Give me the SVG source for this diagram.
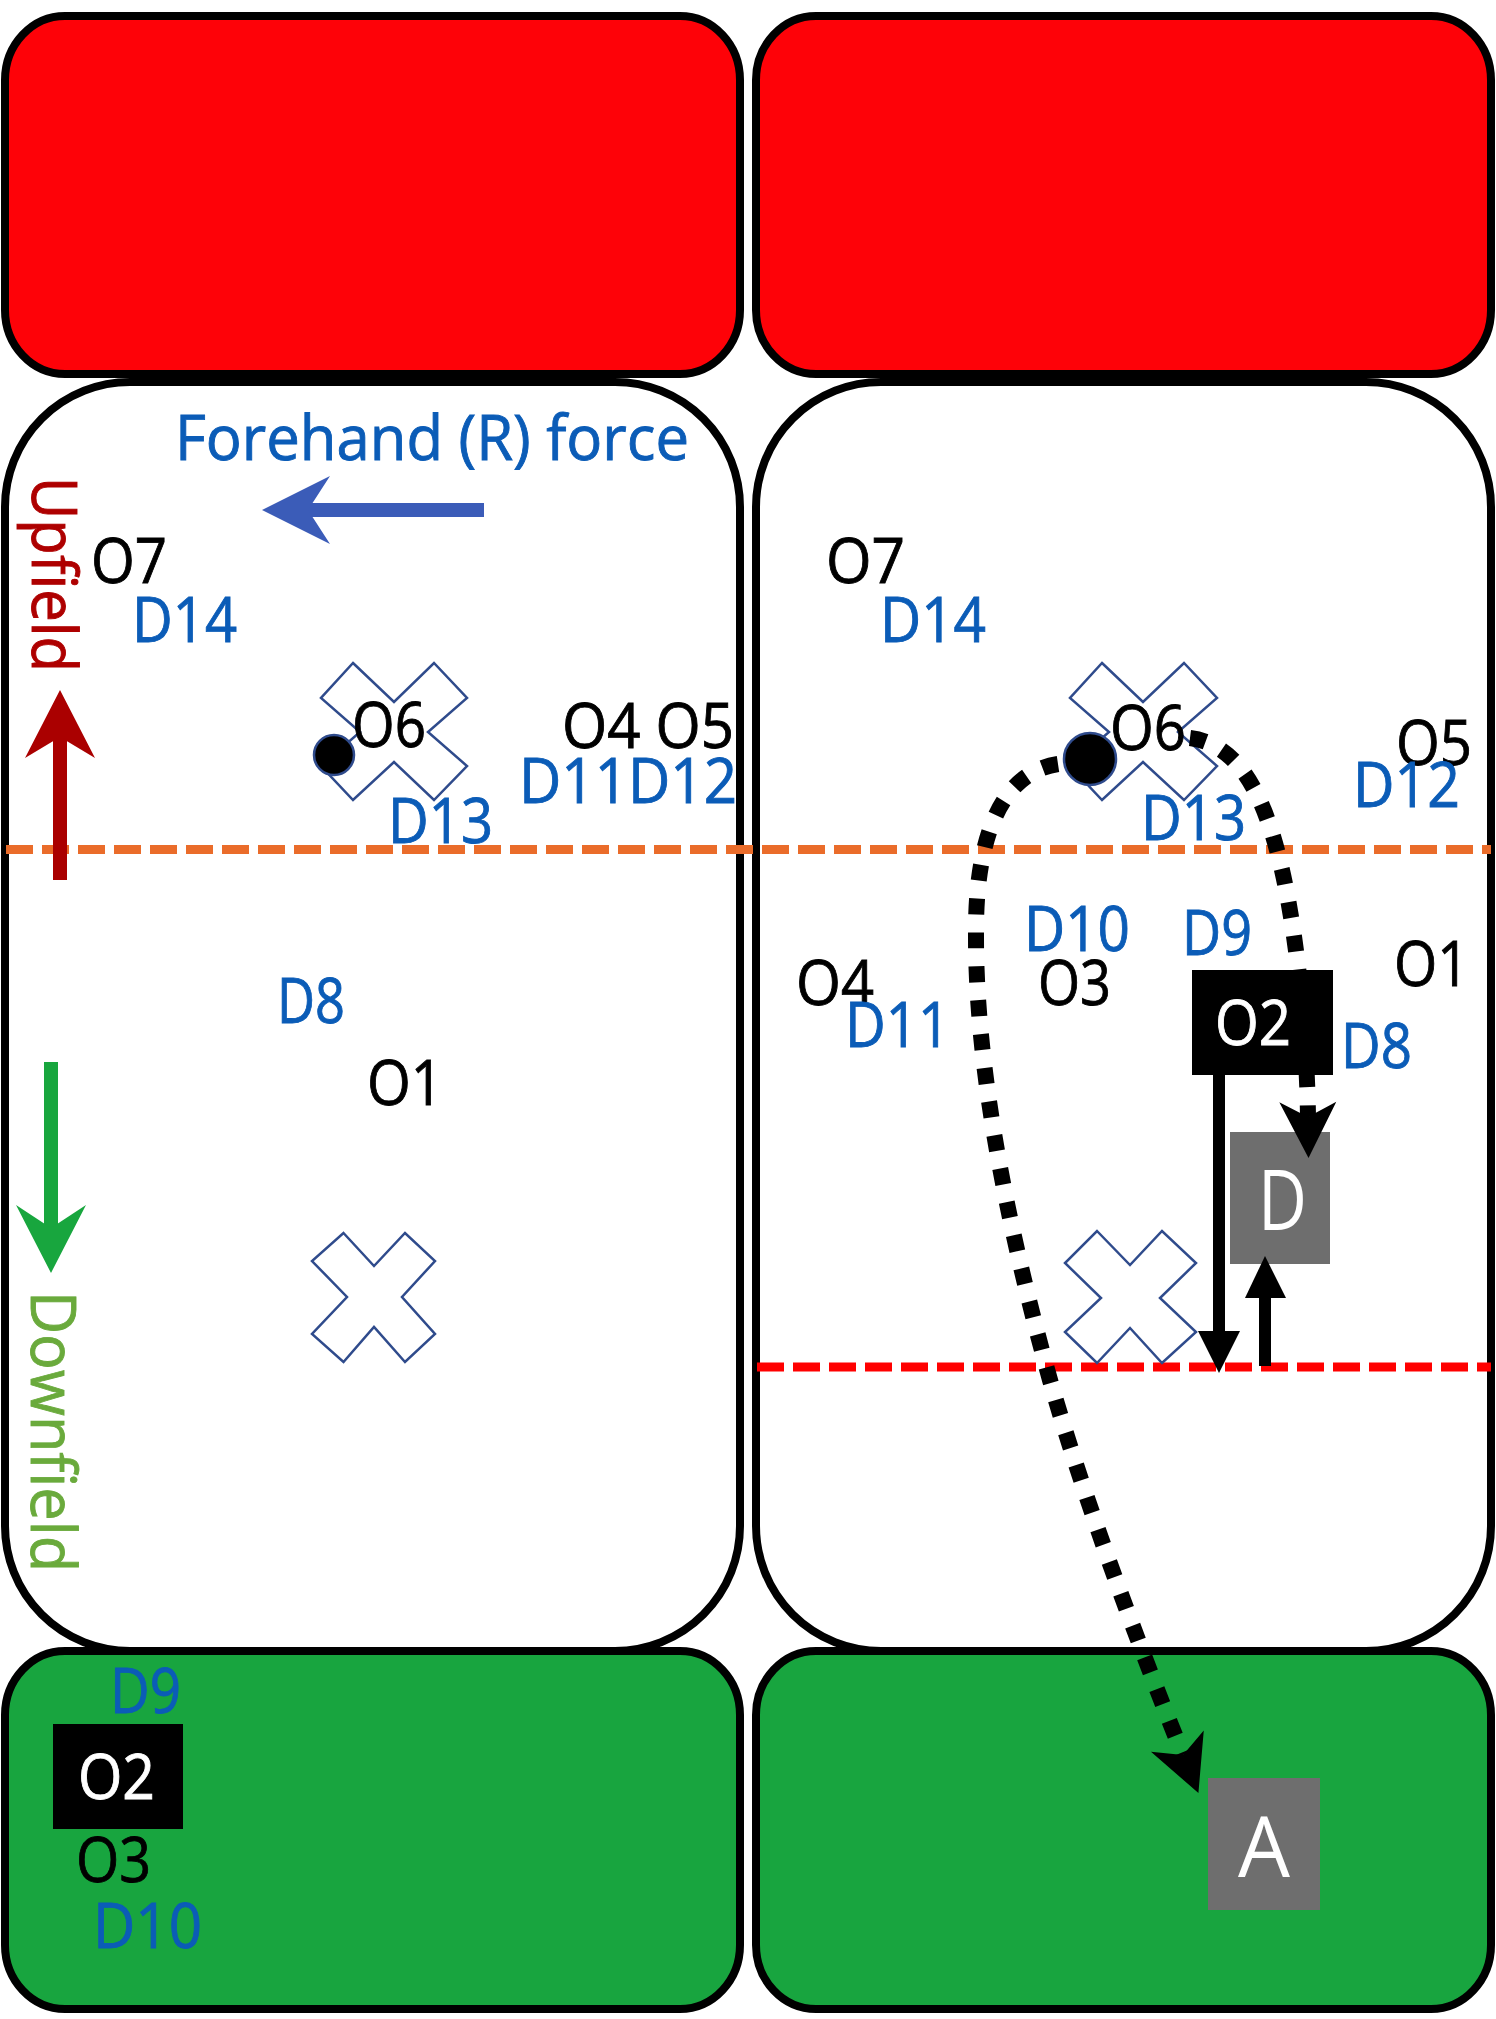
<svg xmlns="http://www.w3.org/2000/svg" width="1496" height="2019" viewBox="0 0 1496 2019">
<defs>
<style>
.t{font-family:"Open Sans","Noto Sans","Liberation Sans",sans-serif;font-size:62px;stroke-width:0.9px}
.big{font-size:85px;stroke-width:0}
.k{fill:#000;stroke:#000}
.b{fill:#0B5CB7;stroke:#0B5CB7}
.w{fill:#fff;stroke:#fff}
.zone{stroke:#000;stroke-width:8}
.redz{fill:#FE0208}
.grnz{fill:#18A53F}
.field{fill:#fff}
.cone{fill:#fff;stroke:#2F4B8C;stroke-width:2.5;stroke-linejoin:miter}
.ball{fill:#000;stroke:#2F4B8C;stroke-width:2.5}
.dot{fill:none;stroke:#000;stroke-width:16;stroke-dasharray:16 18;marker-end:url(#stealth)}
.dash{fill:none;stroke-width:9;stroke-dasharray:27 9}
</style>
<marker id="stealth" viewBox="-15 -29 60 58" refX="0" refY="0" markerWidth="60" markerHeight="58" markerUnits="userSpaceOnUse" orient="auto" overflow="visible">
<path d="M-15,-28.5 L41,0 L-15,28.5 L0,0 Z" fill="#000"/>
</marker>
</defs>

<g id="zones">
<rect id="endzone-top-left" class="zone redz" x="5" y="16" width="735" height="358" rx="60" ry="64"/>
<rect id="endzone-top-right" class="zone redz" x="756" y="16" width="735" height="358" rx="60" ry="64"/>
<rect id="field-left" class="zone field" x="5" y="382" width="735" height="1269" rx="125" ry="125"/>
<rect id="field-right" class="zone field" x="756" y="382" width="735" height="1269" rx="125" ry="125"/>
<rect id="endzone-bottom-left" class="zone grnz" x="5" y="1651" width="735" height="358" rx="60" ry="64"/>
<rect id="endzone-bottom-right" class="zone grnz" x="756" y="1651" width="735" height="358" rx="60" ry="64"/>
</g>

<g id="lines">
<line id="orange-line" class="dash" stroke="#EA6C2A" x1="6" y1="849.5" x2="1491" y2="849.5"/>
<line id="red-line" class="dash" stroke="#FF0000" x1="757" y1="1367" x2="1491" y2="1367"/>
</g>

<g id="cones">
<polygon id="cone-left-1" class="cone" points="353,663 394,702 434,663 467,698 428,732 467,766 434,800 394,762 353,800 321,766 360,732 321,698"/>
<polygon id="cone-left-2" class="cone" points="343.5,1233 374,1266 405,1233 435,1261 402,1297 435,1334 405,1362 374,1327 343.5,1362 312,1334 347,1297 312,1261"/>
<polygon id="cone-right-1" class="cone" points="1102,663 1143,702 1184,663 1217,698 1178,732 1217,766 1184,800 1143,762 1102,800 1070,766 1109,732 1070,698"/>
<polygon id="cone-right-2" class="cone" points="1097,1231 1130,1265 1162,1231 1196,1263 1160,1298 1196,1332 1162,1363 1130,1328 1097,1363 1065,1332 1101,1298 1065,1263"/>
</g>

<g id="indicators">
<g id="force-arrow">
<rect x="306" y="503" width="178" height="14" fill="#3B5CB8"/>
<polygon points="262,510 330,476 308,510 330,544" fill="#3B5CB8"/>
</g>
<g id="upfield-arrow">
<rect x="53" y="736" width="14" height="144" fill="#AA0000"/>
<polygon points="60,690 95,758 60,737 25,758" fill="#AA0000"/>
</g>
<g id="downfield-arrow">
<rect x="44" y="1062" width="14" height="168" fill="#18A63E"/>
<polygon points="51,1273 86,1205 51,1228 16,1205" fill="#18A63E"/>
</g>
<text id="forehand-label" class="t b" x="175" y="460" textLength="514" lengthAdjust="spacingAndGlyphs">Forehand (R) force</text>
<text id="upfield-label" class="t" fill="#AE0000" stroke="#AE0000" transform="translate(32,477) rotate(90)" x="0" y="0" textLength="195" lengthAdjust="spacingAndGlyphs">Upfield</text>
<text id="downfield-label" class="t" fill="#6AAA3C" stroke="#6AAA3C" transform="translate(31,1291) rotate(90)" x="0" y="0" textLength="281" lengthAdjust="spacingAndGlyphs">Downfield</text>
</g>

<g id="marker-D">
<rect x="1230" y="1132" width="100" height="132" fill="#6E6E6E"/>
<text class="t w big" x="1258" y="1230" textLength="49" lengthAdjust="spacingAndGlyphs">D</text>
</g>
<g id="marker-A">
<rect x="1208" y="1778" width="112" height="132" fill="#6E6E6E"/>
<text class="t w big" x="1238" y="1877" textLength="52" lengthAdjust="spacingAndGlyphs">A</text>
</g>

<g id="connectors">
<path id="throw-deep" class="dot" d="M1058,764 C1005,772 976,830 976,930 C975,1050 1000,1200 1050,1380 C1090,1520 1155,1686 1183,1755"/>
<path id="throw-under" class="dot" d="M1190,738 C1245,745 1268,810 1282,870 C1298,940 1307,1040 1308,1117"/>
<g id="cut-down">
<rect x="1213" y="1075" width="12" height="257" fill="#000"/>
<polygon points="1198,1331 1240,1331 1219,1373" fill="#000"/>
</g>
<g id="cut-up">
<rect x="1259" y="1297" width="12" height="69" fill="#000"/>
<polygon points="1245,1298 1286,1298 1265,1256" fill="#000"/>
</g>
</g>

<g id="left-players">
<g id="L-O7"><text class="t k" x="91" y="583" textLength="76" lengthAdjust="spacingAndGlyphs">O7</text></g>
<g id="L-D14"><text class="t b" x="132" y="642" textLength="105" lengthAdjust="spacingAndGlyphs">D14</text></g>
<g id="L-ball"><circle class="ball" cx="334" cy="755" r="20"/></g>
<g id="L-O6"><text class="t k" x="352" y="747" textLength="74" lengthAdjust="spacingAndGlyphs">O6</text></g>
<g id="L-O4O5"><text class="t k" x="562" y="748" textLength="172" lengthAdjust="spacingAndGlyphs">O4 O5</text></g>
<g id="L-D11D12"><text class="t b" x="519" y="803" textLength="218" lengthAdjust="spacingAndGlyphs">D11D12</text></g>
<g id="L-D13"><text class="t b" x="388" y="843" textLength="105" lengthAdjust="spacingAndGlyphs">D13</text></g>
<g id="L-D8"><text class="t b" x="277" y="1023" textLength="68" lengthAdjust="spacingAndGlyphs">D8</text></g>
<g id="L-O1"><text class="t k" x="367" y="1105" textLength="76" lengthAdjust="spacingAndGlyphs">O1</text></g>
<g id="L-D9"><text class="t b" x="110" y="1713" textLength="71" lengthAdjust="spacingAndGlyphs">D9</text></g>
<g id="L-O2"><rect x="53" y="1724" width="130" height="105" fill="#000"/><text class="t w" x="78" y="1799" textLength="77" lengthAdjust="spacingAndGlyphs">O2</text></g>
<g id="L-O3"><text class="t k" x="76" y="1882" textLength="75" lengthAdjust="spacingAndGlyphs">O3</text></g>
<g id="L-D10"><text class="t b" x="93" y="1948" textLength="109" lengthAdjust="spacingAndGlyphs">D10</text></g>
</g>

<g id="right-players">
<g id="R-O7"><text class="t k" x="826" y="583" textLength="79" lengthAdjust="spacingAndGlyphs">O7</text></g>
<g id="R-D14"><text class="t b" x="880" y="642" textLength="106" lengthAdjust="spacingAndGlyphs">D14</text></g>
<g id="R-ball"><circle class="ball" cx="1090" cy="759" r="26"/></g>
<g id="R-O6"><text class="t k" x="1110" y="750" textLength="76" lengthAdjust="spacingAndGlyphs">O6</text></g>
<g id="R-O5"><text class="t k" x="1396" y="765" textLength="76" lengthAdjust="spacingAndGlyphs">O5</text></g>
<g id="R-D12"><text class="t b" x="1353" y="807" textLength="107" lengthAdjust="spacingAndGlyphs">D12</text></g>
<g id="R-D13"><text class="t b" x="1141" y="840" textLength="105" lengthAdjust="spacingAndGlyphs">D13</text></g>
<g id="R-D10"><text class="t b" x="1024" y="951" textLength="106" lengthAdjust="spacingAndGlyphs">D10</text></g>
<g id="R-D9"><text class="t b" x="1182" y="955" textLength="70" lengthAdjust="spacingAndGlyphs">D9</text></g>
<g id="R-O1"><text class="t k" x="1394" y="986" textLength="75" lengthAdjust="spacingAndGlyphs">O1</text></g>
<g id="R-O4"><text class="t k" x="796" y="1005" textLength="78" lengthAdjust="spacingAndGlyphs">O4</text></g>
<g id="R-O3"><text class="t k" x="1038" y="1005" textLength="73" lengthAdjust="spacingAndGlyphs">O3</text></g>
<g id="R-D11"><text class="t b" x="845" y="1047" textLength="105" lengthAdjust="spacingAndGlyphs">D11</text></g>
<g id="R-O2"><rect x="1192" y="970" width="141" height="105" fill="#000"/><text class="t w" x="1215" y="1045" textLength="76" lengthAdjust="spacingAndGlyphs">O2</text></g>
<g id="R-D8"><text class="t b" x="1341" y="1068" textLength="71" lengthAdjust="spacingAndGlyphs">D8</text></g>
</g>
</svg>
